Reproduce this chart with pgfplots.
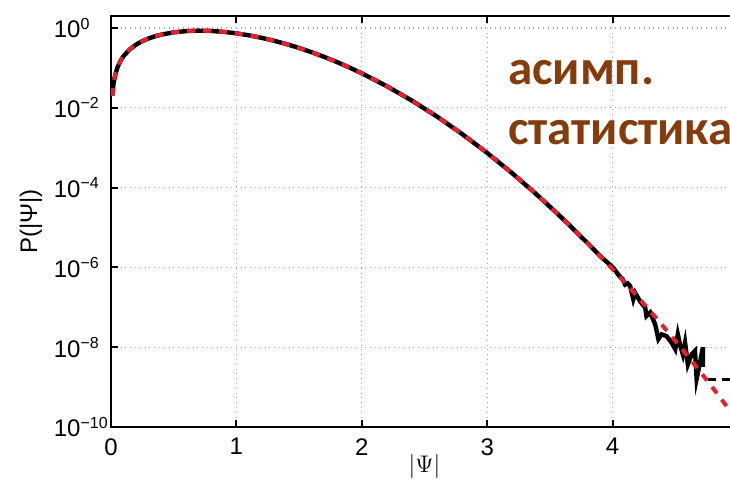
\documentclass[border=0pt]{standalone}
\usepackage{pgfplots}
\pgfplotsset{compat=1.18}
\usepackage{fontspec}
\setmainfont{Liberation Sans}
\newfontfamily\carlito{Carlito}
\definecolor{txtbrown}{HTML}{843C0C}
\definecolor{dashred}{RGB}{235,30,45}

\begin{document}
\begin{tikzpicture}
\begin{axis}[
  scale only axis, width=313.5pt, height=205.5pt,
  ymode=log, xmin=0, xmax=5, ymin=1e-10, ymax=2,
  xtick={0,1,2,3,4},
  ytick={1e-10,1e-8,1e-6,1e-4,1e-2,1},
  yticklabels={10\rlap{\textsuperscript{−10}},10\rlap{\textsuperscript{−8}},10\rlap{\textsuperscript{−6}},
               10\rlap{\textsuperscript{−4}},10\rlap{\textsuperscript{−2}},10\rlap{\textsuperscript{0}}},
  minor ytick={}, yminorticks=false,
  /pgf/number format/assume math mode=true,
  tick label style={font=\fontsize{12}{14}\selectfont},
  yticklabel style={anchor=east, inner sep=0pt, xshift=-15pt},
  xticklabel style={inner sep=0pt, yshift=-5.5pt},
  tick align=inside, major tick length=3.5pt,
  axis line style={line width=1pt}, every tick/.style={line width=1pt, black},
  grid=major, major grid style={dotted, gray!70, line width=0.6pt},
  every axis y label/.style={at={(axis description cs:-0.1276,0.5)}, rotate=90, anchor=center},
  every axis x label/.style={at={(axis description cs:0.5,-0.097)}, anchor=center},
  ylabel={\fontsize{12}{14}\selectfont P(|Ψ|)},
  xlabel={\fontsize{12}{14}\selectfont $|\Psi|$},
]
% measured distribution
\addplot[black, line width=2.2pt] coordinates {
 (0.01,0.0200) (0.02,0.0400) (0.03,0.0600) (0.05,0.0998) (0.075,0.1492)
 (0.1,0.1980) (0.15,0.2933) (0.2,0.3843) (0.25,0.4697) (0.3,0.5484)
 (0.35,0.6193) (0.4,0.6817) (0.5,0.7788) (0.6,0.8372) (0.7,0.8577)
 (0.8,0.8437) (0.9,0.8007) (1.0,0.7358) (1.1,0.6560) (1.2,0.5686)
 (1.3,0.4798) (1.4,0.3944) (1.5,0.3162) (1.6,0.2474) (1.7,0.1890)
 (1.8,0.1410) (1.9,0.1028) (2.0,0.07326) (2.2,0.03479) (2.4,0.01513)
 (2.6,0.006028) (2.8,0.0022046) (3.0,7.405e-4) (3.2,2.2856e-4)
 (3.4,6.487e-5) (3.6,1.6937e-5) (3.8,4.070e-6) (3.9,1.938e-6)
 (4.005,9.8e-7) (4.05,6.3e-7) (4.08,5.1e-7) (4.1,3.7e-7) (4.12,4.0e-7)
 (4.14,3.4e-7) (4.165,1.6e-7) (4.18,2.3e-7) (4.22,1.4e-7) (4.26,9.8e-8)
 (4.27,6.0e-8) (4.30,7.4e-8) (4.34,3.7e-8) (4.365,1.6e-8) (4.39,2.1e-8)
 (4.43,1.9e-8) (4.47,1.3e-8) (4.50,8.9e-9) (4.52,2.1e-8) (4.54,1.07e-8)
 (4.56,6.6e-9) (4.578,1.3e-8) (4.60,3.7e-9) (4.63,6.6e-9) (4.657,8.1e-9)
 (4.67,1.6e-9) (4.70,4.6e-9) (4.72,1.0e-8) (4.72,3.2e-9)
};
% asymptotic statistics
\addplot[dashred, line width=2pt, dash pattern=on 4pt off 4pt, smooth] coordinates {
 (0.01,0.0200) (0.02,0.0400) (0.03,0.0600) (0.05,0.0998) (0.075,0.1492)
 (0.1,0.1980) (0.15,0.2933) (0.2,0.3843) (0.25,0.4697) (0.3,0.5484)
 (0.35,0.6193) (0.4,0.6817) (0.5,0.7788) (0.6,0.8372) (0.7,0.8577)
 (0.8,0.8437) (0.9,0.8007) (1.0,0.7358) (1.1,0.6560) (1.2,0.5686)
 (1.3,0.4798) (1.4,0.3944) (1.5,0.3162) (1.6,0.2474) (1.7,0.1890)
 (1.8,0.1410) (1.9,0.1028) (2.0,0.07326) (2.2,0.03479) (2.4,0.01513)
 (2.6,0.006028) (2.8,0.0022046) (3.0,7.405e-4) (3.2,2.2856e-4)
 (3.4,6.487e-5) (3.6,1.6937e-5) (3.8,4.070e-6) (4.0,9.003e-7)
 (4.2,1.8336e-7) (4.4,3.4384e-8) (4.6,5.937e-9) (4.8,9.442e-10) (5.0,1.3888e-10)
};
% floor of the histogram
\addplot[black, line width=1.5pt, dash pattern=on 4pt off 3pt] coordinates {(4.76,1.51e-9) (5.0,1.51e-9)};
\node[anchor=base west, text=txtbrown, font=\carlito\bfseries\fontsize{24.5}{28}\selectfont, inner sep=0pt]
  at (axis cs:3.163,0.0376) {асимп.};
\node[anchor=base west, text=txtbrown, font=\carlito\bfseries\fontsize{24.5}{28}\selectfont, inner sep=0pt]
  at (axis cs:3.163,1.19e-3) {статистика};
\end{axis}
\pgfresetboundingbox
\useasboundingbox (-55.5pt,-26pt) rectangle (309.5pt,213.5pt);
\end{tikzpicture}
\end{document}
